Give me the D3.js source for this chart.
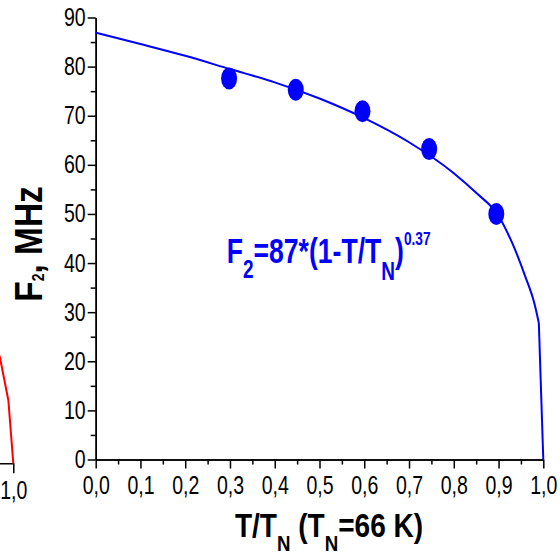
<!DOCTYPE html>
<html>
<head>
<meta charset="utf-8">
<title>F2 vs T/TN</title>
<style>
  body { margin: 0; background: #fff; }
  svg { display: block; font-family: Arial, "Liberation Sans", sans-serif; }
  .axis path, .axis line { stroke: #000; stroke-width: 1.5; }
  .axis text { font-size: 25px; fill: #000; }
</style>
</head>
<body>
<script src="https://cdn.jsdelivr.net/npm/d3@7"></script>
<script>

// measured points (T/TN, F2 in MHz)
var tPts = [0.298, 0.447, 0.596, 0.745, 0.895];
var fPts = [77.6, 75.3, 70.9, 63.2, 50.0];

// fit curve
var tFit = [0, 0.1, 0.2, 0.3, 0.4, 0.5, 0.6, 0.7, 0.8, 0.85, 0.9, 0.93, 0.96, 0.98, 0.99];
var fFit = [86.9, 84.6, 82.2, 79.5, 76.8, 73.5, 69.5, 64.6, 58.3, 54.3, 49.6, 44.2, 37.2, 31.8, 27.8];
// last straight drop of the fit to zero at T = TN
var tEnd = [0.99, 1.0];
var fEnd = [27.8, 0];

// tail of the neighbouring panel (red curve), only its right end is visible
var tLeft = [0.9, 0.95, 0.97, 0.989, 1.0];
var fLeft = [36, 27, 21.6, 12.8, 0];

var xTicks = d3.range(0, 1.001, 0.1);
var xMinor = d3.range(0.05, 1, 0.1);
var yTicks = d3.range(0, 91, 10);
var yMinor = d3.range(5, 90, 10);

var W = 560, H = 555;
var svg = d3.select("body").append("svg").attr("width", W).attr("height", H);

// main scales
var x = d3.scaleLinear().domain([0, 1]).range([95.7, 543.3]);
var y = d3.scaleLinear().domain([0, 90]).range([459.5, 17.5]);

// left panel scales (cut off by the picture edge)
var xL = d3.scaleLinear().domain([0, 1]).range([13.3 - 447.6, 13.3]);
var yL = d3.scaleLinear().domain([0, 90]).range([463.3, 463.3 - 442]);

var sx = 0.78;
var fmt = function(d) { return d3.format(".1f")(d).replace(".", ","); };

// ---- left panel remnant ----
var gl = svg.append("g").attr("class", "axis").attr("transform", "translate(0," + yL(0) + ")")
    .call(d3.axisBottom(xL).tickValues([1]).tickSize(10).tickSizeOuter(0).tickPadding(8).tickFormat(fmt));
gl.selectAll("text").attr("transform", "scale(" + sx + ",1)");

svg.append("path")
    .datum(d3.range(tLeft.length))
    .attr("fill", "none").attr("stroke", "#ff0000").attr("stroke-width", 2)
    .attr("d", d3.line().x(function(i) { return xL(tLeft[i]); }).y(function(i) { return yL(fLeft[i]); }));

// ---- main panel axes ----
svg.append("g").attr("class", "axis").attr("transform", "translate(0," + y(0) + ")")
    .call(d3.axisBottom(x).tickValues(xMinor).tickSize(5).tickSizeOuter(0).tickFormat(""));
var gx = svg.append("g").attr("class", "axis").attr("transform", "translate(0," + y(0) + ")")
    .call(d3.axisBottom(x).tickValues(xTicks).tickSize(9).tickSizeOuter(0).tickPadding(8).tickFormat(fmt));
gx.selectAll("text").attr("transform", "scale(" + sx + ",1)");

svg.append("g").attr("class", "axis").attr("transform", "translate(" + x(0) + ",0)")
    .call(d3.axisLeft(y).tickValues(yMinor).tickSize(5).tickSizeOuter(0).tickFormat(""));
var gy = svg.append("g").attr("class", "axis").attr("transform", "translate(" + x(0) + ",0)")
    .call(d3.axisLeft(y).tickValues(yTicks).tickSize(8).tickSizeOuter(0).tickFormat(d3.format("d")));
gy.selectAll("text").attr("x", -10 / sx).attr("transform", "scale(" + sx + ",1)");

// ---- fit curve ----
svg.append("path")
    .datum(d3.range(tFit.length))
    .attr("fill", "none").attr("stroke", "#0000ff").attr("stroke-width", 2)
    .attr("d", d3.line().curve(d3.curveMonotoneX)
        .x(function(i) { return x(tFit[i]); }).y(function(i) { return y(fFit[i]); }));
svg.append("path")
    .datum(d3.range(tEnd.length))
    .attr("fill", "none").attr("stroke", "#0000ff").attr("stroke-width", 2)
    .attr("d", d3.line().x(function(i) { return x(tEnd[i]); }).y(function(i) { return y(fEnd[i]); }));

// ---- data points ----
svg.selectAll(".pt")
    .data(d3.range(tPts.length))
    .enter().append("ellipse")
    .attr("class", "pt")
    .attr("cx", function(i) { return x(tPts[i]); })
    .attr("cy", function(i) { return y(fPts[i]); })
    .attr("rx", 8).attr("ry", 11)
    .attr("fill", "#0000ff");

// ---- formula label ----
var ft = svg.append("g").attr("transform", "translate(226.7,263.3) scale(0.76,1)")
  .append("text").attr("fill", "#0000ff").attr("font-weight", "bold").attr("font-size", 35);
ft.append("tspan").text("F");
ft.append("tspan").attr("font-size", 25).attr("dy", 15).text("2");
ft.append("tspan").attr("dy", -15).text("=87*(1-T/T");
ft.append("tspan").attr("font-size", 25).attr("dy", 17).text("N");
ft.append("tspan").attr("dy", -17).text(")");
ft.append("tspan").attr("font-size", 18).attr("dy", -18).text("0.37");

// ---- axis titles ----
var xt = svg.append("g").attr("transform", "translate(329,537) scale(0.85,1)")
  .append("text").attr("text-anchor", "middle").attr("font-weight", "bold").attr("font-size", 33);
xt.append("tspan").text("T/T");
xt.append("tspan").attr("font-size", 22).attr("dy", 14).text("N");
xt.append("tspan").attr("dy", -14).text(" (T");
xt.append("tspan").attr("font-size", 22).attr("dy", 14).text("N");
xt.append("tspan").attr("dy", -14).text("=66 K)");

var yt = svg.append("g").attr("transform", "translate(42,244) rotate(-90) scale(0.88,1)")
  .append("text").attr("text-anchor", "middle").attr("font-weight", "bold").attr("font-size", 38);
yt.append("tspan").text("F");
yt.append("tspan").attr("font-size", 16).attr("dy", 2).text("2");
yt.append("tspan").attr("dy", -2).text(",  MHz");

</script>
</body>
</html>
